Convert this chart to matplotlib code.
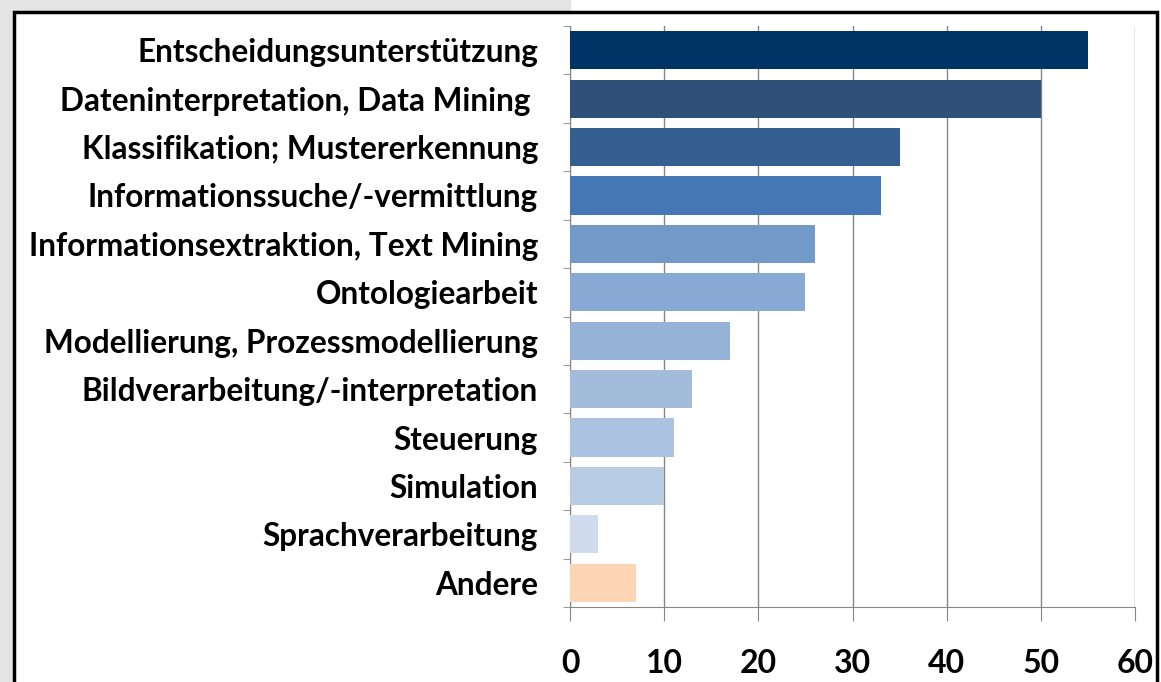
import matplotlib.pyplot as plt
from matplotlib.patches import Rectangle

categories = ['Entscheidungsunterstützung', 'Dateninterpretation, Data Mining ',
              'Klassifikation; Mustererkennung', 'Informationssuche/-vermittlung',
              'Informationsextraktion, Text Mining', 'Ontologiearbeit',
              'Modellierung, Prozessmodellierung', 'Bildverarbeitung/-interpretation',
              'Steuerung', 'Simulation', 'Sprachverarbeitung', 'Andere']
values = [55, 50, 35, 33, 26, 25, 17, 13, 11, 10, 3, 7]
colors = ['#003366', '#2F5079', '#365F91', '#4577B5', '#7299C8', '#87A9D4',
          '#95B3D7', '#A3BCDB', '#ABC2E0', '#B8CCE4', '#D0DCEE', '#FCD5B4']
xticks = [0, 10, 20, 30, 40, 50, 60]

plt.rcParams['font.family'] = ['Lato', 'DejaVu Sans']

fig = plt.figure(figsize=(11.61, 6.82), dpi=100)
# screenshot surroundings: grey strips and black frame
fig.patches.append(Rectangle((0, 0), 12 / 1161, 1, transform=fig.transFigure,
                             color='#E4E4E4', zorder=0))
fig.patches.append(Rectangle((0, 1 - 10 / 682), 570 / 1161, 10 / 682,
                             transform=fig.transFigure, color='#E4E4E4', zorder=0))
fig.patches.append(Rectangle((13.5 / 1161, -0.1), (1157 - 13.5) / 1161, 1.1 - 11.5 / 682,
                             transform=fig.transFigure, fill=False,
                             edgecolor='black', linewidth=2.5, zorder=1))

ax = fig.add_axes([570 / 1161, 1 - 607 / 682, 565 / 1161, (607 - 26) / 682])
ypos = list(range(len(categories)))
ax.barh(ypos, values, height=0.79, color=colors, zorder=3)
ax.set_ylim(len(categories) - 0.5, -0.5)
ax.set_xlim(0, 60)
ax.set_xticks(xticks)
ax.set_yticks([i + 0.5 for i in ypos[:-1]] + [-0.5, len(categories) - 0.5], minor=True)
ax.set_yticks(ypos)
ax.set_yticklabels(categories, fontsize=22.7, fontweight='bold')
ax.set_xticklabels([str(t) for t in xticks], fontsize=23, fontweight='bold')
ax.tick_params(axis='y', which='major', length=0, pad=23)
ax.tick_params(axis='y', which='minor', length=5, color='#868686', direction='out')
ax.tick_params(axis='x', length=10, color='#868686', pad=20)
ax.grid(axis='x', color='#868686', linewidth=1, zorder=0)
for s in ['top', 'right']:
    ax.spines[s].set_visible(False)
for s in ['left', 'bottom']:
    ax.spines[s].set_color('#868686')

plt.savefig('out.png', dpi=100)
